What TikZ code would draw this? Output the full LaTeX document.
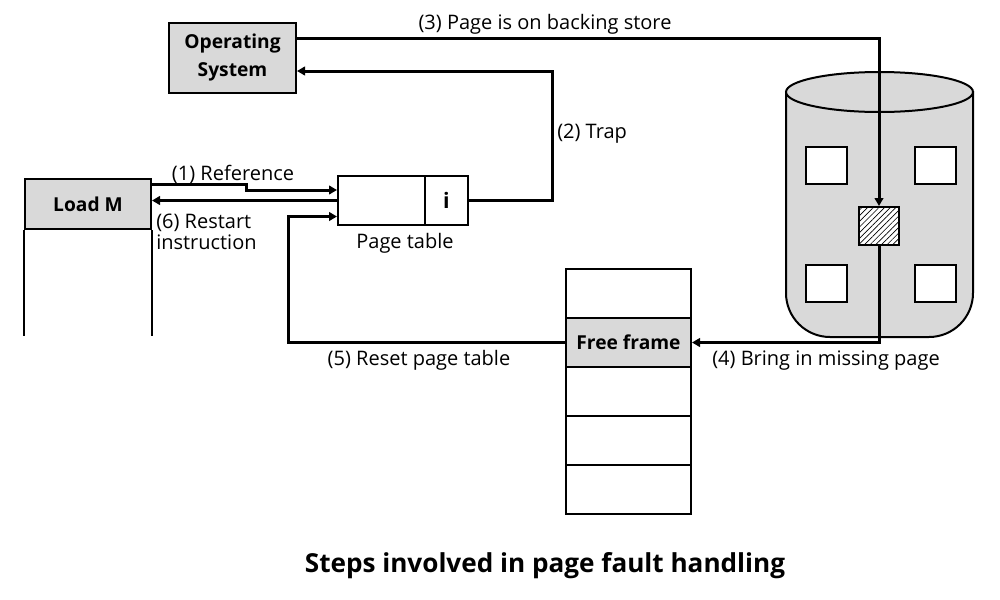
\documentclass[tikz,border=0pt]{standalone}
\usepackage{fontspec}
\setmainfont{Open Sans}
\usetikzlibrary{arrows.meta,calc,patterns.meta}
\definecolor{boxgray}{HTML}{D9D9D9}
\begin{document}
\begin{tikzpicture}[x=0.75pt,y=-0.75pt,
  box/.style={draw,line width=1.5pt,inner sep=0pt,font=\fontsize{15pt}{16pt}\selectfont},
  gbox/.style={box,fill=boxgray,font=\bfseries\fontsize{14.4pt}{21pt}\selectfont},
  lbl/.style={inner sep=0pt,yshift=-1.8pt,font=\fontsize{15pt}{16pt}\selectfont},
  conn/.style={line width=2.25pt},
  arr/.style={conn,-{Triangle[length=6pt,width=6.5pt]}},
  sq/.style={draw,line width=1.5pt,fill=white,minimum width=30.75pt,minimum height=27.75pt,inner sep=0pt}
]
\useasboundingbox (0,0) rectangle (1000,600);
% cylinder (backing store)
\draw[line width=1.5pt,fill=boxgray] (786,92) {[rounded corners=33pt] -- (786,337) -- (973,337)} -- (973,92) -- cycle;
\draw[line width=1.5pt,fill=boxgray] (879.5,92) ellipse [x radius=70.125pt,y radius=15pt];
\node[sq] (s1) at (826.5,165.5) {};
\node[sq] (s2) at (935.5,165.5) {};
\node[sq] (s3) at (826.5,283.5) {};
\node[sq] (s4) at (935.5,283.5) {};
\node[sq,minimum width=30pt,minimum height=28.5pt,postaction={pattern={Lines[angle=45,distance=3pt,line width=0.5pt]}}] (hs) at (879,226) {};
% operating system
\node[gbox,minimum width=95.25pt,minimum height=52.5pt,align=center] (os) at (232.5,58) {Operating\\System};
% Load M
\node[gbox,minimum width=94.5pt,minimum height=37.5pt] (lm) at (88,204) {Load M};
\draw[line width=1.5pt] (lm.south west) -- ++(0,106);
\draw[line width=1.5pt] (lm.south east) -- ++(0,106);
% page table
\node[box,minimum width=65.25pt,minimum height=36.75pt] (pt) at (381.5,200.5) {};
\node[box,minimum width=32.25pt,minimum height=36.75pt,font=\bfseries\fontsize{16pt}{16pt}\selectfont] (pti) at (446.5,200.5) {i};
\node[lbl] (ptl) at (405,241) {Page table};
% memory frames
\node[box,minimum width=93.75pt,minimum height=36.75pt] (f1) at (628.5,293.5) {};
\node[gbox,minimum width=93.75pt,minimum height=36.75pt] (ff) at (628.5,342.5) {Free frame};
\node[box,minimum width=93.75pt,minimum height=36.75pt] (f3) at (628.5,391.5) {};
\node[box,minimum width=93.75pt,minimum height=36.75pt] (f4) at (628.5,440.5) {};
\node[box,minimum width=93.75pt,minimum height=36.75pt] (f5) at (628.5,489.5) {};
% connectors
\draw[arr] ($(lm.north east)+(0,6)$) -- ++(94,0) |- ($(pt.west)+(0,-10.5)$);
\draw[arr] (pt.west) -- (pt.west -| lm.east);
\draw[arr] (pti.east) -- ++(83,0) |- ($(os.east)+(0,13)$);
\draw[arr] ($(os.east)+(0,-20)$) -| (hs.north);
\draw[arr] (hs.south) |- (ff.east);
\draw[arr] (ff.west) -- ++(-277,0) |- ($(pt.west)+(0,16)$);
% labels
\node[lbl] (l3) at (545,22) {(3) Page is on backing store};
\node[lbl,anchor=west] (l2) at (557,131) {(2) Trap};
\node[lbl] (l1) at (233,172) {(1) Reference};
\node[lbl,anchor=west,align=left,font=\fontsize{15pt}{15.75pt}\selectfont] (l6) at (156,229.5) {(6) Restart\\instruction};
\node[lbl] (l5) at (419,358) {(5) Reset page table};
\node[lbl] (l4) at (826,358) {(4) Bring in missing page};
\node[inner sep=0pt,yshift=-2pt,font=\bfseries\fontsize{19.6pt}{22pt}\selectfont] (title) at (545,563) {Steps involved in page fault handling};
\end{tikzpicture}
\end{document}
